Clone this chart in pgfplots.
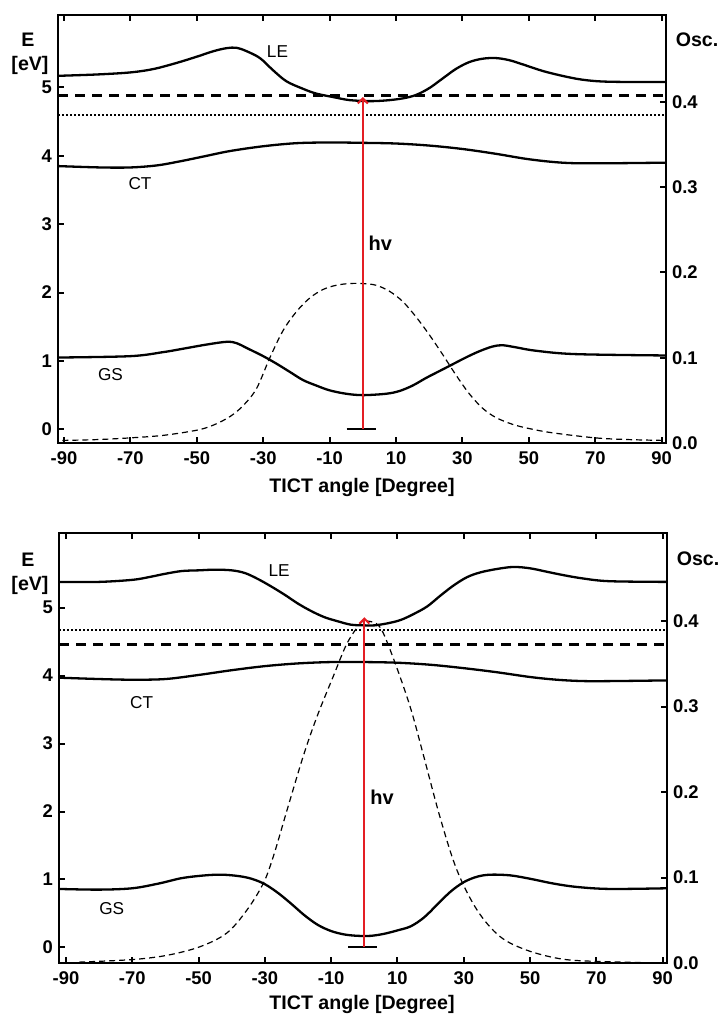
\documentclass[border=0pt]{standalone}
\usepackage{fontspec}
\setmainfont{Liberation Sans}
\usepackage{pgfplots}
\pgfplotsset{compat=1.18}
\usetikzlibrary{arrows.meta}
\definecolor{arrowred}{RGB}{228,30,36}

\pgfplotstableread{
x E
-91.8 5.17
-80 5.19
-70 5.22
-63 5.27
-56 5.36
-50 5.45
-45 5.53
-41 5.575
-38 5.58
-35 5.53
-31 5.43
-27 5.25
-23 5.09
-18 4.98
-14 4.91
-9 4.86
-4 4.815
2 4.80
7 4.81
12 4.84
16 4.89
20 4.99
24 5.13
28 5.27
32 5.37
36 5.42
40 5.43
44 5.40
48 5.34
55 5.23
64 5.13
71 5.09
80 5.08
91.3 5.08
}\topLE

\pgfplotstableread{
x E
-91.8 3.85
-79 3.83
-70 3.83
-62 3.86
-55 3.92
-48 3.99
-40 4.07
-30 4.14
-20 4.185
-10 4.195
0 4.19
10 4.18
20 4.15
30 4.10
40 4.03
50 3.95
60 3.90
70 3.89
91.3 3.90
}\topCT

\pgfplotstableread{
x E
-91.8 1.05
-70 1.07
-60 1.13
-54 1.18
-47 1.24
-41 1.28
-38 1.26
-35 1.19
-30 1.07
-26 0.96
-22 0.84
-18 0.72
-14 0.64
-10 0.57
-5 0.52
0 0.50
7 0.52
11 0.56
15 0.64
19 0.75
23 0.85
27 0.95
31 1.05
35 1.14
39 1.21
42 1.23
46 1.20
52 1.15
64 1.10
91.3 1.08
}\topGS

\pgfplotstableread{
x f
-90.5 0.003
-80 0.004
-70 0.006
-60 0.009
-50 0.015
-45 0.021
-40 0.031
-36 0.044
-32 0.064
-28 0.100
-24 0.132
-20 0.154
-16 0.170
-12 0.180
-8 0.185
-4 0.187
0 0.187
4 0.185
8 0.178
12 0.166
16 0.148
20 0.127
24 0.104
28 0.080
32 0.058
36 0.041
40 0.030
45 0.022
50 0.017
57 0.012
70 0.006
80 0.004
90.7 0.003
}\topOsc

\pgfplotstableread{
x E
-92.1 5.38
-80 5.38
-70 5.41
-65 5.45
-60 5.50
-55 5.54
-50 5.55
-45 5.56
-40 5.55
-36 5.51
-32 5.42
-28 5.31
-24 5.19
-20 5.06
-16 4.95
-12 4.86
-8 4.80
-4 4.75
0 4.74
3 4.74
7 4.77
11 4.82
15 4.91
19 5.02
23 5.18
27 5.33
31 5.45
35 5.52
40 5.57
45 5.60
50 5.58
55 5.53
60 5.48
66 5.43
74 5.39
91.3 5.38
}\botLE

\pgfplotstableread{
x E
-92.1 3.97
-80 3.95
-70 3.94
-60 3.95
-50 4.01
-40 4.08
-30 4.14
-20 4.18
-10 4.20
0 4.20
10 4.19
20 4.16
30 4.11
40 4.05
50 3.98
58 3.94
66 3.92
75 3.92
91.3 3.93
}\botCT

\pgfplotstableread{
x E
-92.1 0.86
-80 0.85
-70 0.87
-62 0.94
-55 1.02
-48 1.06
-43 1.07
-38 1.05
-34 1.01
-30 0.93
-26 0.80
-22 0.64
-18 0.47
-14 0.33
-10 0.24
-6 0.19
-2 0.17
2 0.17
6 0.20
10 0.25
14 0.31
18 0.44
22 0.63
26 0.82
30 0.96
34 1.04
38 1.07
44 1.06
50 1.01
57 0.94
64 0.89
74 0.86
91.3 0.87
}\botGS

\pgfplotstableread{
x f
-86 0.001
-70 0.004
-59.5 0.009
-49.6 0.019
-41.5 0.035
-35.4 0.062
-30.5 0.093
-27.5 0.124
-23.3 0.179
-18.5 0.241
-14.3 0.288
-9.4 0.335
-5.2 0.374
-1 0.398
1 0.400
4.7 0.393
8.6 0.358
13.8 0.300
17.7 0.245
22.8 0.171
27.9 0.109
34 0.062
40.9 0.031
49 0.015
59 0.005
69 0.002
89.2 0.000
}\botOsc

\tikzset{
  lab/.style={font=\fontsize{8.6}{10}\selectfont},
  hvlab/.style={anchor=west, inner sep=0pt, font=\fontsize{10}{12}\selectfont\bfseries},
}

\begin{document}
\fontsize{8.6}{10}\selectfont
\begin{tikzpicture}[x=1pt,y=1pt]
\useasboundingbox (0pt,0pt) rectangle (360.5pt,508pt);
\pgfplotsset{
  base/.style={scale only axis, width=304pt, height=214pt, anchor=south west,
    /pgf/number format/assume math mode=true,
    tick align=inside, major tick length=3pt,
    every tick/.style={line width=1pt, black},
    axis line style={line width=1.3pt},
    ticklabel style={font=\fontsize{9.2}{10}\selectfont\bfseries},
  },
  leftax/.style={base,
    xtick={-90,-70,-50,-30,-10,10,30,50,70,90},
    xticklabels={-90,-70,-50,-30,-10,10,30,50,70,90},
    xticklabel style={yshift=-1.3pt},
    ytick={0,1,2,3,4,5}, yticklabels={0,1,2,3,4,5},
    ytick pos=left, xtick pos=both, xticklabel pos=lower,
  },
  rightax/.style={base, axis y line*=right, axis x line=none,
    ytick={0,0.1,0.2,0.3,0.4}, yticklabels={0.0,0.1,0.2,0.3,0.4},
  },
  curve/.style={black, line width=1.15pt, smooth, tension=0.55},
  osc/.style={black, line width=0.6pt, dash pattern=on 3pt off 2pt, smooth, tension=0.55},
  hdash/.style={black, line width=1.3pt, dash pattern=on 5pt off 3.5pt},
  hdot/.style={black, line width=1.1pt, dash pattern=on 0.9pt off 1.1pt},
}

% ---------------- top panel ----------------
\begin{axis}[rightax, at={(29pt,286.5pt)}, xmin=-91.8, xmax=91.3, ymin=0, ymax=0.502]
\addplot[osc] table[x=x,y=f] {\topOsc};
\end{axis}
\begin{axis}[leftax, at={(29pt,286.5pt)}, xmin=-91.8, xmax=91.3, ymin=-0.2, ymax=6.06]
\addplot[hdash] coordinates {(-91.8,4.88) (91.3,4.88)};
\addplot[hdot] coordinates {(-91.8,4.60) (91.3,4.60)};
\addplot[curve] table[x=x,y=E] {\topLE};
\addplot[curve] table[x=x,y=E] {\topCT};
\addplot[curve] table[x=x,y=E] {\topGS};
\addplot[black, line width=1.1pt] coordinates {(-4.9,0) (3.9,0)};
\addplot[arrowred, line width=1pt, -{Straight Barb[length=2.5pt,width=5pt,line width=1pt]}] coordinates {(0,0) (0,4.86)};
\node[lab] at (axis cs:-25.7,5.53) {LE};
\node[lab] at (axis cs:-67.1,3.60) {CT};
\node[lab] at (axis cs:-76,0.80) {GS};
\node[hvlab] at (axis cs:1.6,2.72) {hv};
\end{axis}

% ---------------- bottom panel ----------------
\begin{axis}[rightax, at={(29.5pt,26.5pt)}, height=215pt, xmin=-92.1, xmax=91.3, ymin=0, ymax=0.503]
\addplot[osc] table[x=x,y=f] {\botOsc};
\end{axis}
\begin{axis}[leftax, at={(29.5pt,26.5pt)}, height=215pt, xmin=-92.1, xmax=91.3, ymin=-0.23, ymax=6.10]
\addplot[hdot] coordinates {(-92.1,4.67) (91.3,4.67)};
\addplot[hdash] coordinates {(-92.1,4.46) (91.3,4.46)};
\addplot[curve] table[x=x,y=E] {\botLE};
\addplot[curve] table[x=x,y=E] {\botCT};
\addplot[curve] table[x=x,y=E] {\botGS};
\addplot[black, line width=1.1pt] coordinates {(-4.9,0) (3.8,0)};
\addplot[arrowred, line width=1pt, -{Straight Barb[length=2.5pt,width=5pt,line width=1pt]}] coordinates {(0,0) (0,4.86)};
\node[lab] at (axis cs:-25.7,5.55) {LE};
\node[lab] at (axis cs:-67.2,3.61) {CT};
\node[lab] at (axis cs:-76.2,0.57) {GS};
\node[hvlab] at (axis cs:1.7,2.21) {hv};
\end{axis}

% ---------------- outside labels ----------------
\begin{scope}[every node/.style={font=\fontsize{9.8}{11}\selectfont\bfseries, inner sep=0pt}]
\node at (14pt,488pt) {E};
\node at (15pt,475.5pt) {[eV]};
\node at (348.5pt,488pt) {Osc.};
\node at (181pt,264.5pt) {TICT angle [Degree]};
\node at (14pt,228pt) {E};
\node at (15pt,215.5pt) {[eV]};
\node at (349pt,228.5pt) {Osc.};
\node at (181pt,6pt) {TICT angle [Degree]};
\end{scope}
\end{tikzpicture}
\end{document}
